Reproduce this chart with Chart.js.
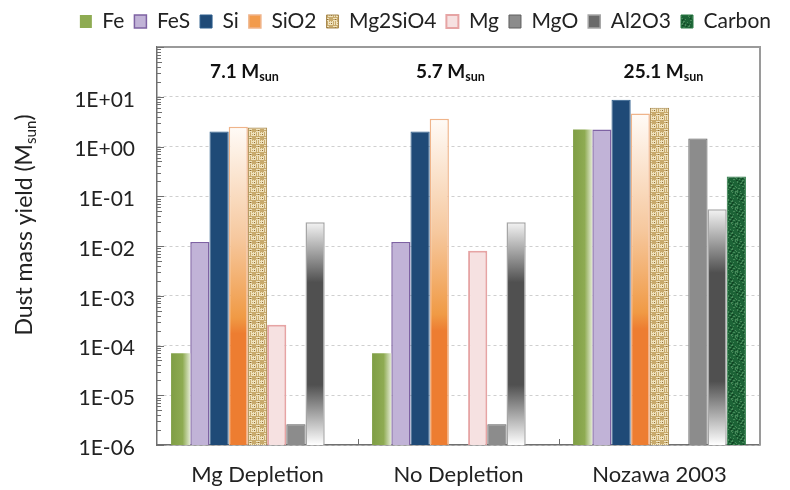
<!DOCTYPE html>
<html>
<head>
<meta charset="utf-8">
<script src="https://cdn.jsdelivr.net/npm/chart.js@4.4.1/dist/chart.umd.min.js"></script>
<style>
html,body{margin:0;padding:0;background:#fff;}
#wrap{width:790px;height:490px;}
</style>
</head>
<body>
<div id="wrap"><canvas id="c" width="790" height="490"></canvas></div>
<script>
const categories = ['Mg Depletion', 'No Depletion', 'Nozawa 2003'];
const groupTitles = ['7.1', '5.7', '25.1'];
const seriesNames = ['Fe', 'FeS', 'Si', 'SiO2', 'Mg2SiO4', 'Mg', 'MgO', 'Al2O3', 'Carbon'];
const feValues      = [7e-5, 7e-5, 2.2];
const fesValues     = [1.2e-2, 1.2e-2, 2.2];
const siValues      = [2.0, 2.0, 8.7];
const sio2Values    = [2.5, 3.6, 4.6];
const mg2sio4Values = [2.4, null, 6.0];
const mgValues      = [2.6e-4, 8e-3, null];
const mgoValues     = [2.6e-6, 2.6e-6, 1.45];
const al2o3Values   = [3e-2, 3e-2, 0.055];
const carbonValues  = [null, null, 0.25];
const yTickValues = [1e-6, 1e-5, 1e-4, 1e-3, 1e-2, 1e-1, 1e0, 1e1, 1e2];
const yTickLabels = ['1E-06', '1E-05', '1E-04', '1E-03', '1E-02', '1E-01', '1E+00', '1E+01', ''];

const CAT_PCT = 0.86;
const FONT = 'Lato, "Open Sans", sans-serif';

function makeWeave() {
  const c = document.createElement('canvas'); c.width = 8; c.height = 8;
  const g = c.getContext('2d');
  g.fillStyle = '#c8aa6c'; g.fillRect(0, 0, 8, 8);
  g.fillStyle = '#efe2bd';
  g.fillRect(0, 1, 4, 1); g.fillRect(0, 3, 4, 1);
  g.fillRect(5, 4, 1, 4); g.fillRect(7, 4, 1, 4);
  g.fillRect(4, 5, 4, 1); g.fillRect(4, 7, 4, 1);
  g.fillRect(1, 4, 1, 4); g.fillRect(3, 4, 1, 4);
  g.fillStyle = '#8f6c34';
  g.fillRect(2, 2, 1, 1); g.fillRect(6, 6, 1, 1);
  return c;
}
function makeMarble() {
  const c = document.createElement('canvas'); c.width = 16; c.height = 16;
  const g = c.getContext('2d');
  g.fillStyle = '#1c6336'; g.fillRect(0, 0, 16, 16);
  for (let y = 0; y < 16; y++) {
    for (let x = 0; x < 16; x++) {
      const v = Math.sin(x * 1.7 + y * 0.9) + Math.sin(x * 0.6 - y * 2.1) + Math.sin((x + y) * 1.3);
      if (v > 1.2) { g.fillStyle = 'rgba(110,170,120,0.55)'; g.fillRect(x, y, 1, 1); }
      else if (v < -1.6) { g.fillStyle = 'rgba(10,50,25,0.6)'; g.fillRect(x, y, 1, 1); }
    }
  }
  return c;
}
const ctx0 = document.getElementById('c').getContext('2d');
const weavePattern = ctx0.createPattern(makeWeave(), 'repeat');
const marblePattern = ctx0.createPattern(makeMarble(), 'repeat');

function barGeom(chart, dsIndex, i) {
  const xs = chart.scales.x;
  const center = xs.getPixelForValue(i);
  const catW = (xs.right - xs.left) / categories.length * CAT_PCT;
  const barW = catW / seriesNames.length;
  const left = center - catW / 2 + dsIndex * barW;
  return {left, right: left + barW};
}

function feFill(c) {
  const chart = c.chart;
  if (c.type !== 'data' || !chart.chartArea || !chart.scales.x) return '#93ae5a';
  const g = barGeom(chart, c.datasetIndex, c.dataIndex);
  const gr = chart.ctx.createLinearGradient(g.left, 0, g.right, 0);
  gr.addColorStop(0, '#7f9e45');
  gr.addColorStop(0.6, '#8eab52');
  gr.addColorStop(1, '#e3ead3');
  return gr;
}
function vertFill(stops, fallback) {
  return function (c) {
    const chart = c.chart;
    if (c.type !== 'data' || !chart.chartArea || c.raw == null || !chart.scales.y) return fallback;
    const ys = chart.scales.y;
    const top = ys.getPixelForValue(c.raw);
    const bot = ys.getPixelForValue(ys.min);
    const gr = chart.ctx.createLinearGradient(0, top, 0, bot);
    stops.forEach(s => gr.addColorStop(s[0], s[1]));
    return gr;
  };
}
const sio2Fill = vertFill([[0, '#fffbf7'], [0.35, '#f6c89e'], [0.6, '#f09a45'], [0.65, '#ed7d31'], [1, '#ed7d31']], '#f29b4c');
const al2o3Fill = vertFill([[0, '#f4f4f4'], [0.27, '#505050'], [0.73, '#505050'], [1, '#ffffff']], '#6a6a6a');

const legendFills = ['#8eab52', '#c1b3d7', '#1f4a77', '#f29b4c', null, '#f6e1e1', '#8c8c8c', '#6a6a6a', null];

const styles = [
  {bg: feFill, border: '#8aa64e', bw: 0},
  {bg: '#c1b3d7', border: '#7e62a3', bw: 1.5},
  {bg: '#1f4a77', border: '#2c5d8c', bw: 1},
  {bg: sio2Fill, border: '#efb48a', bw: 1.5},
  {bg: weavePattern, border: '#a88a50', bw: 1},
  {bg: '#f6e1e1', border: '#e6a4a4', bw: 2},
  {bg: '#8c8c8c', border: '#5e5e5e', bw: 1},
  {bg: al2o3Fill, border: '#a6a6a6', bw: 1.5},
  {bg: marblePattern, border: '#2a7a45', bw: 1}
];
const seriesValues = [feValues, fesValues, siValues, sio2Values, mg2sio4Values, mgValues, mgoValues, al2o3Values, carbonValues];

const datasets = seriesNames.map((n, k) => ({
  label: n,
  data: seriesValues[k],
  backgroundColor: styles[k].bg,
  borderColor: styles[k].border,
  borderWidth: styles[k].bw,
  borderSkipped: 'bottom',
  categoryPercentage: CAT_PCT,
  barPercentage: 1.0
}));

function drawSubText(ctx, parts, x, y, align, baseSize, weight) {
  ctx.save();
  let total = 0;
  const widths = parts.map(p => {
    ctx.font = weight + ' ' + (p[1] ? baseSize * 0.66 : baseSize) + 'px ' + FONT;
    const w = ctx.measureText(p[0]).width; total += w; return w;
  });
  let cx = align === 'center' ? x - total / 2 : x;
  ctx.textBaseline = 'middle';
  ctx.textAlign = 'left';
  parts.forEach((p, i) => {
    ctx.font = weight + ' ' + (p[1] ? baseSize * 0.66 : baseSize) + 'px ' + FONT;
    ctx.fillText(p[0], cx, p[1] ? y + baseSize * 0.28 : y);
    cx += widths[i];
  });
  ctx.restore();
}

const decor = {
  id: 'decor',
  beforeInit(chart) {
    const lg = chart.legend;
    if (lg) {
      const origFit = lg.fit;
      lg.fit = function () { origFit.call(this); this.height = 47; };
      const origDraw = lg.draw;
      lg.draw = function () {
        const c = this.ctx; c.save(); c.translate(21, 1); origDraw.call(this); c.restore();
      };
    }
  },
  afterDraw(chart) {
    const ctx = chart.ctx;
    const a = chart.chartArea;
    const ys = chart.scales.y, xs = chart.scales.x;
    ctx.save();
    ctx.strokeStyle = '#9a9a9a';
    ctx.lineWidth = 2;
    ctx.beginPath();
    ctx.moveTo(a.left, a.top); ctx.lineTo(a.right, a.top); ctx.lineTo(a.right, a.bottom);
    ctx.stroke();
    ctx.strokeStyle = '#6f6f6f';
    ctx.lineWidth = 1;
    for (let n = -6; n <= 2; n++) {
      for (let k = 1; k <= 9; k++) {
        const v = k * Math.pow(10, n);
        if (v > 100 + 1e-9) break;
        const y = Math.round(ys.getPixelForValue(v)) + 0.5;
        const len = k === 1 ? 7 : (k === 5 ? 5 : 4);
        ctx.beginPath(); ctx.moveTo(a.left, y); ctx.lineTo(a.left + len, y); ctx.stroke();
      }
    }
    for (let j = 1; j < categories.length; j++) {
      const x = Math.round(xs.left + (xs.right - xs.left) / categories.length * j) + 0.5;
      ctx.beginPath(); ctx.moveTo(x, a.bottom); ctx.lineTo(x, a.bottom - 6); ctx.stroke();
    }
    ctx.restore();
    ctx.save();
    ctx.fillStyle = '#111';
    const offs = [-13, -8, 4];
    groupTitles.forEach((t, i) => {
      drawSubText(ctx, [[t + ' M', false], ['sun', true]], xs.getPixelForValue(i) + offs[i], 72, 'center', 19, 'bold');
    });
    ctx.restore();
    ctx.save();
    ctx.fillStyle = '#222';
    ctx.translate(25, 225);
    ctx.rotate(-Math.PI / 2);
    drawSubText(ctx, [['Dust mass yield (M', false], ['sun', true], [')', false]], 0, 0, 'center', 23, 'normal');
    ctx.restore();
  }
};

new Chart(document.getElementById('c'), {
  type: 'bar',
  data: {labels: categories, datasets},
  plugins: [decor],
  options: {
    responsive: false,
    devicePixelRatio: 1,
    animation: false,
    layout: {padding: {top: 0, right: 30, left: 0, bottom: 0}},
    plugins: {
      legend: {
        display: true,
        position: 'top',
        align: 'end',
        labels: {
          boxWidth: 12,
          boxHeight: 13,
          padding: 10,
          color: '#222',
          font: {family: FONT, size: 21},
          generateLabels(chart) {
            const items = Chart.defaults.plugins.legend.labels.generateLabels(chart);
            items.forEach((it, k) => { if (legendFills[k]) it.fillStyle = legendFills[k]; });
            return items;
          }
        }
      },
      tooltip: {enabled: false}
    },
    scales: {
      x: {
        grid: {display: false, drawTicks: false},
        border: {display: true, color: '#6f6f6f', width: 1.5},
        ticks: {color: '#222', font: {family: FONT, size: 22}, padding: 17},
        afterFit(s) { s.height = 45; }
      },
      y: {
        type: 'logarithmic',
        min: 1e-6,
        max: 1e2,
        afterBuildTicks(s) { s.ticks = yTickValues.map(v => ({value: v})); },
        ticks: {
          color: '#222',
          font: {family: FONT, size: 21},
          padding: 22,
          labelOffset: 3,
          autoSkip: false,
          callback(v) { const i = yTickValues.findIndex(t => Math.abs(Math.log10(t) - Math.log10(v)) < 1e-6); return i >= 0 ? yTickLabels[i] : ''; }
        },
        grid: {
          color: c => (c.tick && c.tick.value >= 1e2) ? 'rgba(0,0,0,0)' : '#cfcfcf',
          drawTicks: false,
          lineWidth: 1
        },
        border: {display: true, color: '#6f6f6f', width: 1.5, dash: [3, 3]},
        afterFit(s) { s.width = 157; }
      }
    }
  }
});
</script>
</body>
</html>
